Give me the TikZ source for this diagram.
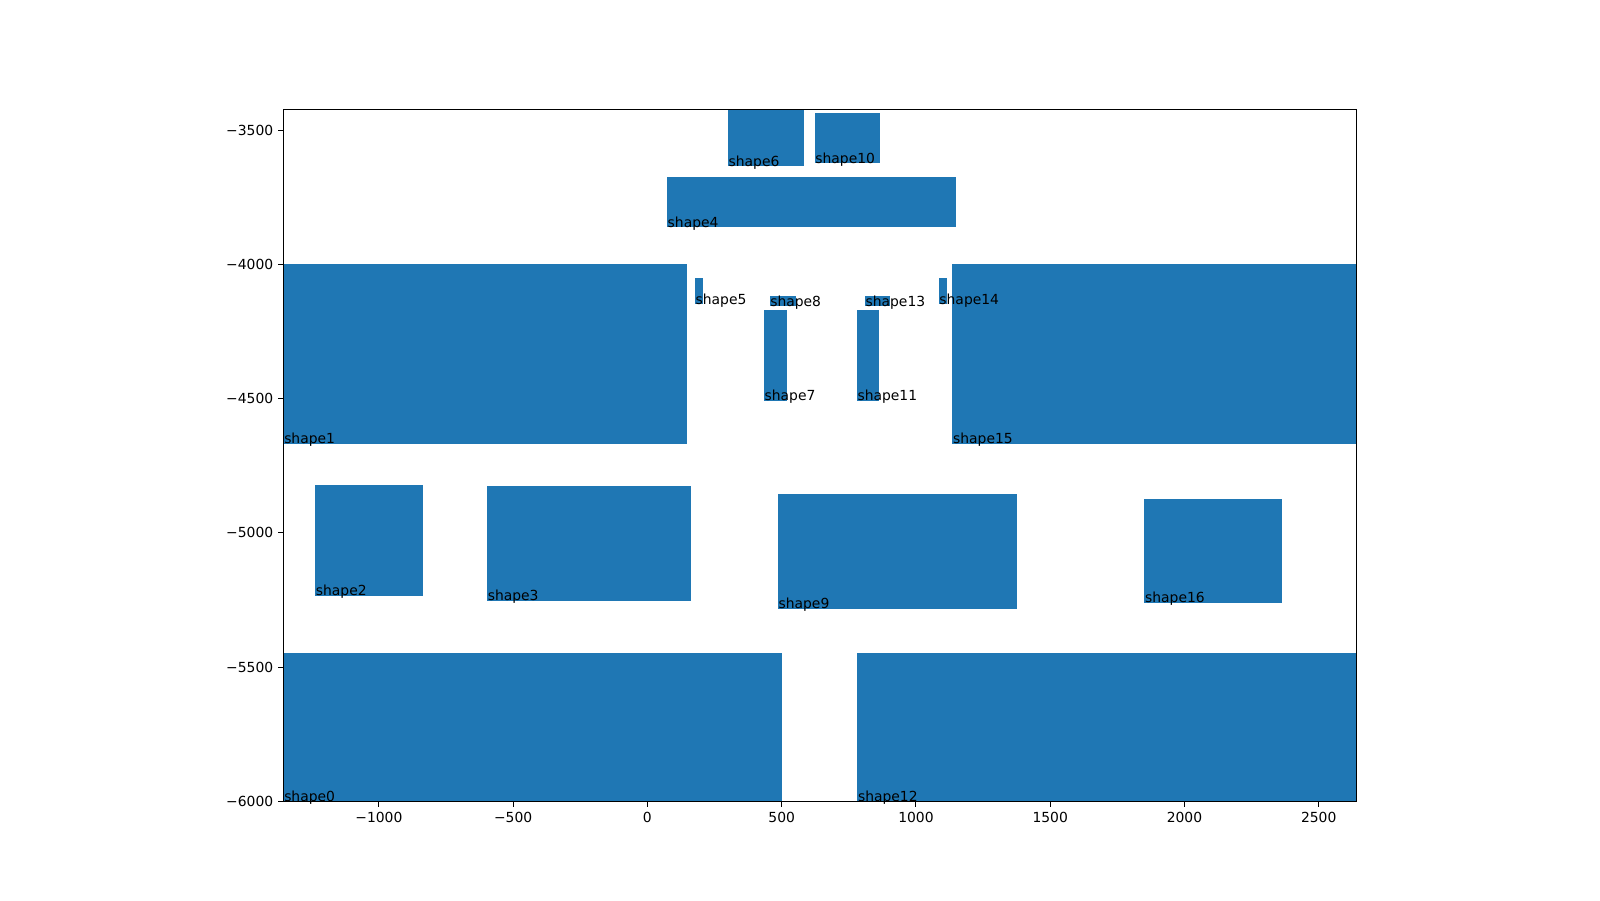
\documentclass[tikz,border=0pt]{standalone}
\usepackage{fontspec}
\setmainfont{DejaVu Sans}
\usepackage{xcolor}
\definecolor{shapeblue}{HTML}{1F77B4}

\begin{document}
\begin{tikzpicture}[
    block/.style={fill=shapeblue, draw=none},
    tag/.style={anchor=base west, inner sep=0pt, font=\fontsize{3.95}{4.7}\selectfont},
    ticklbl/.style={inner sep=0pt, font=\fontsize{3.95}{4.7}\selectfont},
    spine/.style={line width=0.31pt, line cap=rect}
]
\useasboundingbox (0,0) rectangle (16,9);
\begin{scope}[shift={(6.474cm,17.097cm)}, x=0.002688cm, y=0.002688cm]
% blocks
\fill[block] (-1355,-6000) rectangle (500,-5447);
\fill[block] (-1355,-4668) rectangle (146,-4000);
\fill[block] (-1237,-5235) rectangle (-835,-4822);
\fill[block] (-597,-5253) rectangle (162,-4826);
\fill[block] (73,-3861) rectangle (1151,-3673);
\fill[block] (177,-4149) rectangle (207,-4052);
\fill[block] (300,-3634) rectangle (582,-3422);
\fill[block] (434,-4508) rectangle (518,-4171);
\fill[block] (455,-4156) rectangle (552,-4119);
\fill[block] (486,-5282) rectangle (1375,-4857);
\fill[block] (623,-3623) rectangle (868,-3438);
\fill[block] (780,-4508) rectangle (864,-4171);
\fill[block] (782,-6000) rectangle (2642,-5447);
\fill[block] (810,-4156) rectangle (905,-4119);
\fill[block] (1085,-4149) rectangle (1117,-4052);
\fill[block] (1136,-4668) rectangle (2642,-4000);
\fill[block] (1851,-5260) rectangle (2365,-4874);

% frame and ticks
\coordinate (lowleft) at (-1355,-6000);
\coordinate (upright) at (2642,-3422);
\draw[spine] (lowleft) rectangle (upright);
\foreach \v/\t in {-1000/{−1000},-500/{−500},0/0,500/500,1000/1000,1500/1500,2000/2000,2500/2500} {
  \draw[spine] (\v,-6000) -- (\v,-6018);
  \node[ticklbl, anchor=north] (xt\v) at (\v,-6036) {\t};
}
\foreach \v/\t in {-3500/{−3500},-4000/{−4000},-4500/{−4500},-5000/{−5000},-5500/{−5500},-6000/{−6000}} {
  \draw[spine] (-1355,\v) -- (-1373,\v);
  \node[ticklbl, anchor=east] (yt\v) at (-1391,\v) {\t};
}

% labels
\node[tag] (s0) at (-1355,-6000) {shape0};
\node[tag] (s1) at (-1355,-4668) {shape1};
\node[tag] (s2) at (-1237,-5235) {shape2};
\node[tag] (s3) at (-597,-5253) {shape3};
\node[tag] (s4) at (73,-3861) {shape4};
\node[tag] (s5) at (177,-4149) {shape5};
\node[tag] (s6) at (300,-3634) {shape6};
\node[tag] (s7) at (434,-4508) {shape7};
\node[tag] (s8) at (455,-4156) {shape8};
\node[tag] (s9) at (486,-5282) {shape9};
\node[tag] (s10) at (623,-3623) {shape10};
\node[tag] (s11) at (780,-4508) {shape11};
\node[tag] (s12) at (782,-6000) {shape12};
\node[tag] (s13) at (810,-4156) {shape13};
\node[tag] (s14) at (1085,-4149) {shape14};
\node[tag] (s15) at (1136,-4668) {shape15};
\node[tag] (s16) at (1851,-5260) {shape16};
\end{scope}
\end{tikzpicture}
\end{document}
